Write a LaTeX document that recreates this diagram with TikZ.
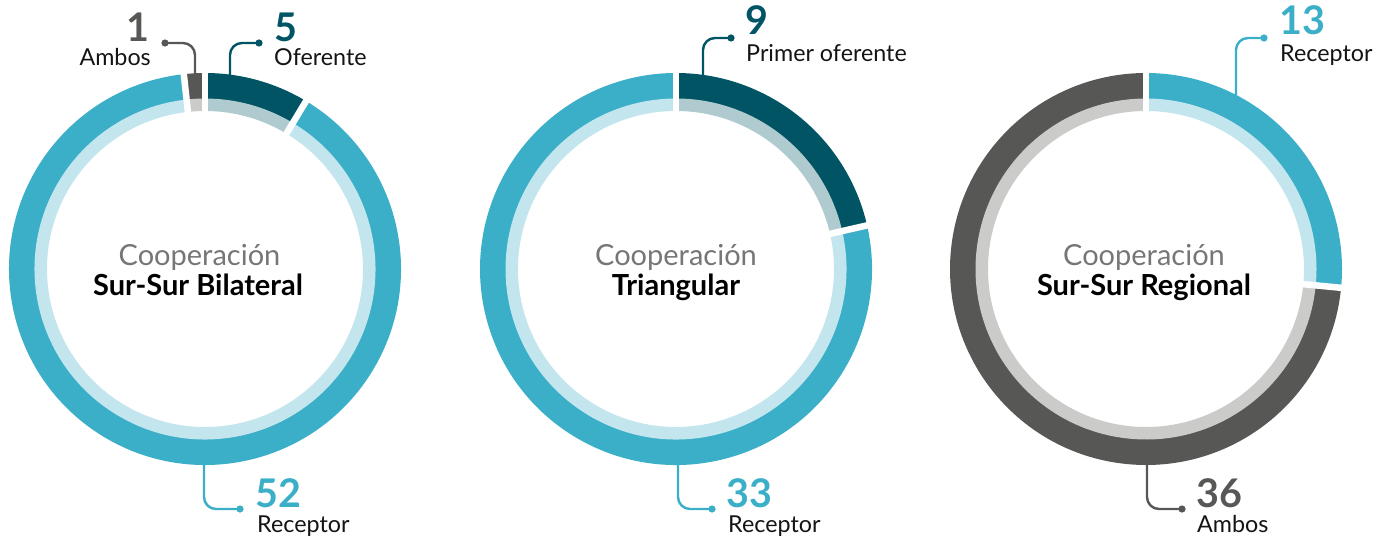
\documentclass[tikz,border=0pt]{standalone}
\usepackage{fontspec}
\setmainfont{Lato}
\definecolor{teal}{RGB}{59,174,200}
\definecolor{teallt}{RGB}{195,229,238}
\definecolor{navy}{RGB}{0,84,99}
\definecolor{navylt}{RGB}{176,203,207}
\definecolor{dgrey}{RGB}{87,87,86}
\definecolor{dgreylt}{RGB}{203,203,202}
\definecolor{midgrey}{RGB}{118,118,118}
\definecolor{txt}{RGB}{20,20,20}
\newcommand{\ringseg}[5]{%
  \fill[#4] ([shift={(#2:196pt)}]#1) arc[start angle=#2,end angle=#3,radius=196pt]
     -- ([shift={(#3:170pt)}]#1) arc[start angle=#3,end angle=#2,radius=170pt] -- cycle;
  \fill[#5] ([shift={(#2:170.5pt)}]#1) arc[start angle=#2,end angle=#3,radius=170.5pt]
     -- ([shift={(#3:158pt)}]#1) arc[start angle=#3,end angle=#2,radius=158pt] -- cycle;}
\newcommand{\ringgap}[2]{%
  \draw[white,line width=6.5pt] ([shift={(#2:150pt)}]#1) -- ([shift={(#2:202pt)}]#1);}
\tikzset{
  conn/.style={line width=2.4pt,rounded corners=12pt},
  num/.style={font=\fontsize{39.5}{42}\selectfont\bfseries,inner sep=0pt},
  lab/.style={font=\fontsize{23.3}{26}\selectfont,text=txt,inner sep=0pt},
  coop/.style={font=\fontsize{29}{32}\selectfont,text=midgrey,inner sep=0pt,anchor=base},
  title/.style={font=\fontsize{29}{32}\selectfont\bfseries,text=black,inner sep=0pt,anchor=base}
}
\begin{document}
\begin{tikzpicture}[x=1pt,y=1pt]
\useasboundingbox (0,0) rectangle (1388,-540);
\coordinate (c1) at (205,-269);
\coordinate (c2) at (676,-269);
\coordinate (c3) at (1146,-269);
% chart 1
\ringseg{c1}{90}{58.97}{navy}{navylt}
\ringseg{c1}{58.97}{-263.79}{teal}{teallt}
\ringseg{c1}{-263.79}{-270}{dgrey}{dgreylt}
\ringgap{c1}{90}
\ringgap{c1}{58.97}
\ringgap{c1}{96.21}
% chart 2
\ringseg{c2}{90}{12.857}{navy}{navylt}
\ringseg{c2}{12.857}{-270}{teal}{teallt}
\ringgap{c2}{90}
\ringgap{c2}{12.857}
% chart 3
\ringseg{c3}{90}{-5.51}{teal}{teallt}
\ringseg{c3}{-5.51}{-270}{dgrey}{dgreylt}
\ringgap{c3}{90}
\ringgap{c3}{-5.51}
% centre texts
\node[coop] (t1a) at (199.5,-265) {Cooperación};
\node[title] (t1b) at (198,-295) {Sur-Sur Bilateral};
\node[coop] (t2a) at (676,-265) {Cooperación};
\node[title] (t2b) at (676,-295) {Triangular};
\node[coop] (t3a) at (1144,-265) {Cooperación};
\node[title] (t3b) at (1144,-295) {Sur-Sur Regional};
% connectors chart 1
\coordinate (s1a) at (195,-77);
\coordinate (d1a) at (165,-43);
\draw[conn,dgrey] (s1a) |- (d1a);
\fill[dgrey] (d1a) circle (3.6pt);
\node[num,text=dgrey,anchor=base east] (n1a) at (150,-42) {1};
\node[lab,anchor=base east] (l1a) at (151,-66) {Ambos};
\coordinate (s1o) at (230,-78);
\coordinate (d1o) at (259,-43);
\draw[conn,navy] (s1o) |- (d1o);
\fill[navy] (d1o) circle (3.6pt);
\node[num,text=navy,anchor=base west] (n1o) at (274,-42) {5};
\node[lab,anchor=base west] (l1o) at (274,-66) {Oferente};
\coordinate (s1r) at (204,-460);
\coordinate (d1r) at (240,-509);
\draw[conn,teal] (s1r) |- (d1r);
\fill[teal] (d1r) circle (3.6pt);
\node[num,text=teal,anchor=base west] (n1r) at (255,-507) {52};
\node[lab,anchor=base west] (l1r) at (257,-532) {Receptor};
% connectors chart 2
\coordinate (s2o) at (703,-78);
\coordinate (d2o) at (731,-38);
\draw[conn,navy] (s2o) |- (d2o);
\fill[navy] (d2o) circle (3.6pt);
\node[num,text=navy,anchor=base west] (n2o) at (745,-35) {9};
\node[lab,anchor=base west] (l2o) at (746,-62) {Primer oferente};
\coordinate (s2r) at (678,-460);
\coordinate (d2r) at (712,-509);
\draw[conn,teal] (s2r) |- (d2r);
\fill[teal] (d2r) circle (3.6pt);
\node[num,text=teal,anchor=base west] (n2r) at (726,-507) {33};
\node[lab,anchor=base west] (l2r) at (728,-532) {Receptor};
% connectors chart 3
\coordinate (s3r) at (1236,-98);
\coordinate (d3r) at (1264,-38);
\draw[conn,teal] (s3r) |- (d3r);
\fill[teal] (d3r) circle (3.6pt);
\node[num,text=teal,anchor=base west] (n3r) at (1279,-35) {13};
\node[lab,anchor=base west] (l3r) at (1280,-62) {Receptor};
\coordinate (s3a) at (1147,-460);
\coordinate (d3a) at (1182,-509);
\draw[conn,dgrey] (s3a) |- (d3a);
\fill[dgrey] (d3a) circle (3.6pt);
\node[num,text=dgrey,anchor=base west] (n3a) at (1196,-507) {36};
\node[lab,anchor=base west] (l3a) at (1197,-532) {Ambos};
\end{tikzpicture}
\end{document}
